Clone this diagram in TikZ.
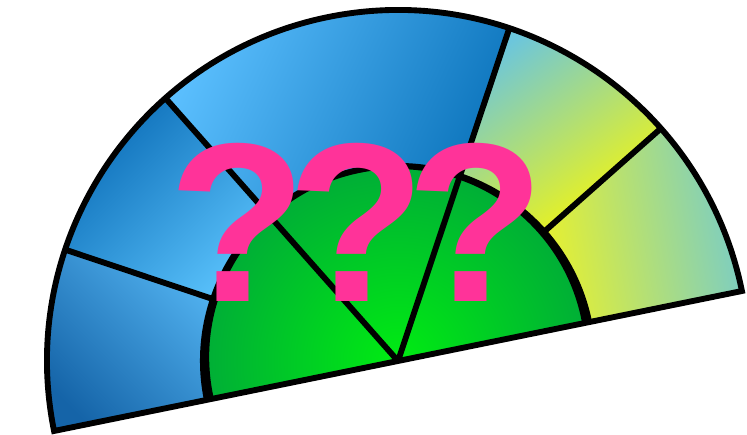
\documentclass[tikz,border=0pt]{standalone}
\usepackage{fontspec}
\newfontfamily\markfont{Liberation Sans}
\definecolor{blueDeep}{HTML}{1564A8}
\definecolor{blueSoft}{HTML}{50B0EE}
\definecolor{blueDark}{HTML}{0C6EB8}
\definecolor{blueLight}{HTML}{58C0FA}
\definecolor{skyLight}{HTML}{5CC0FF}
\definecolor{skyDark}{HTML}{0C74BC}
\definecolor{tealSoft}{HTML}{6CC6DC}
\definecolor{lemon}{HTML}{F6F70C}
\definecolor{tealGrey}{HTML}{78CCC8}
\definecolor{lemonSoft}{HTML}{E6F030}
\definecolor{greenBright}{HTML}{00EC12}
\definecolor{greenDeep}{HTML}{00A83A}
\definecolor{markPink}{HTML}{FF3399}
\begin{document}
\begin{tikzpicture}[x=0.75pt,y=0.75pt,
  outline/.style={draw=black, line width=4.4pt},
  marktext/.style={text=markPink, font=\markfont\bfseries\fontsize{170}{170}\selectfont, inner sep=0pt}]
\useasboundingbox (0,0) rectangle (747,435);
\def\R{351}
\def\r{195}
\begin{scope}[shift={(398,74)}, rotate=11.5]
  % outer ring sectors
  \shade[top color=blueSoft, bottom color=blueDeep, shading angle=-45]
    (150:\r) -- (150:\R) arc[start angle=150, end angle=180, radius=\R]
    -- (180:\r) arc[start angle=180, end angle=150, radius=\r] -- cycle;
  \shade[top color=blueDark, bottom color=blueLight, shading angle=45]
    (120:\r) -- (120:\R) arc[start angle=120, end angle=150, radius=\R]
    -- (150:\r) arc[start angle=150, end angle=120, radius=\r] -- cycle;
  \shade[top color=skyLight, bottom color=skyDark, shading angle=65]
    (60:\r) -- (60:\R) arc[start angle=60, end angle=120, radius=\R]
    -- (120:\r) arc[start angle=120, end angle=60, radius=\r] -- cycle;
  \shade[top color=tealSoft, bottom color=lemon, shading angle=35]
    (30:\r) -- (30:\R) arc[start angle=30, end angle=60, radius=\R]
    -- (60:\r) arc[start angle=60, end angle=30, radius=\r] -- cycle;
  \shade[top color=tealGrey, bottom color=lemonSoft, shading angle=-80]
    (0:\r) -- (0:\R) arc[start angle=0, end angle=30, radius=\R]
    -- (30:\r) arc[start angle=30, end angle=0, radius=\r] -- cycle;
  % inner green half disc
  \begin{scope}
    \clip (0:\r) arc[start angle=0, end angle=180, radius=\r] -- cycle;
    \shade[inner color=greenBright, outer color=greenDeep] (0,0) circle (\r);
  \end{scope}
  % rim of the half disc, heavier toward its feet
  \begin{scope}
    \clip (-\r-20,0) rectangle (\r+20,\r+20);
    \fill[black, even odd rule] (0,0) circle (\r+3) (0,4) circle (\r-7);
  \end{scope}
  % dividers
  \draw[outline] (30:\r) -- (30:\R);
  \draw[outline] (150:\r) -- (150:\R);
  \draw[outline] (0,0) -- (60:\R);
  \draw[outline] (0,0) -- (120:\R);
  % outer contour and base line
  \draw[outline] (180:\R) -- (0:\R) arc[start angle=0, end angle=180, radius=\R] -- cycle;
\end{scope}
\node[marktext, anchor=base] (marks) at (356.5,133) {?\kern-14.6pt?\kern-14.6pt?};
\end{tikzpicture}
\end{document}
